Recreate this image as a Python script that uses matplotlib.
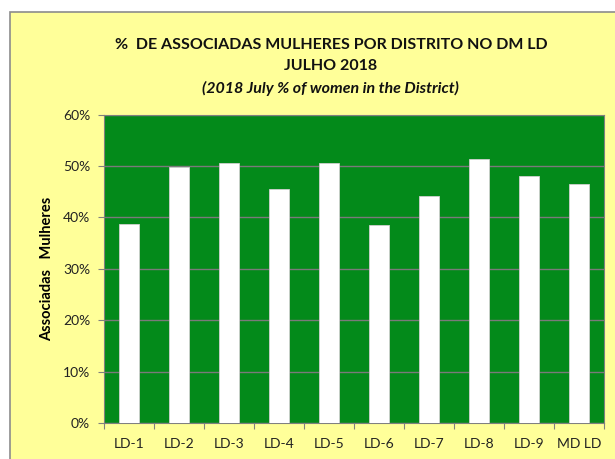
import matplotlib
matplotlib.use("Agg")
import matplotlib.pyplot as plt
from matplotlib.patches import Rectangle
from matplotlib.ticker import FuncFormatter

districts = ["LD-1", "LD-2", "LD-3", "LD-4", "LD-5", "LD-6", "LD-7", "LD-8", "LD-9", "MD LD"]
pct_women = [38.8, 49.8, 50.5, 45.5, 50.5, 38.5, 44.2, 51.3, 48.0, 46.5]
y_ticks = [0, 10, 20, 30, 40, 50, 60]

plt.rcParams["font.family"] = ["Lato", "DejaVu Sans"]

fig = plt.figure(figsize=(6.15, 4.59), dpi=100)
fig.patch.set_facecolor("white")
# yellow chart area with gray frame, offset from the top-left corner
fig.patches.append(Rectangle((10 / 615, -0.01), 1.0, 1 - 12 / 459 + 0.01,
                             transform=fig.transFigure, facecolor="#FFFF99",
                             edgecolor="#8c8c8c", lw=1.2, zorder=-10))

ax = fig.add_axes([104 / 615, 1 - 423 / 459, 500 / 615, (423 - 114.5) / 459])
ax.set_zorder(5)
ax.set_facecolor("#038A1A")
x = range(len(districts))
ax.bar(x, pct_women, width=0.4, color="white", edgecolor="#d0d0d0", lw=0.6, zorder=3)
ax.set_xlim(-0.5, len(districts) - 0.5)
ax.set_ylim(0, 60)
ax.set_yticks(y_ticks)
ax.yaxis.set_major_formatter(FuncFormatter(lambda v, p: f"{v:.0f}%"))
ax.set_xticks([i - 0.5 for i in range(len(districts) + 1)], minor=False)
ax.set_xticklabels([])
ax.set_xticks(list(x), minor=True)
ax.set_xticklabels(districts, minor=True)
ax.tick_params(axis="x", which="minor", length=0, pad=11, labelsize=10, colors="#222222")
ax.tick_params(axis="x", which="major", length=4, color="#808080")
ax.tick_params(axis="y", length=4, color="#808080", labelsize=10, labelcolor="#222222", pad=6)
ax.grid(axis="y", color="#7a7a7a", lw=1.0, zorder=1)
for s in ax.spines.values():
    s.set_color("#808080")
ax.set_ylabel("Associadas   Mulheres", fontsize=10.5, fontweight="bold", labelpad=6)

fig.text(0.538, 1 - 45 / 459, "%  DE ASSOCIADAS MULHERES POR DISTRITO NO DM LD",
         ha="center", va="center", fontsize=11.5, fontweight="bold", color="#111111")
fig.text(0.538, 1 - 66 / 459, "JULHO 2018",
         ha="center", va="center", fontsize=11.5, fontweight="bold", color="#111111")
fig.text(0.538, 1 - 88 / 459, "(2018 July % of women in the District)",
         ha="center", va="center", fontsize=11.5, fontweight="bold", style="italic", color="#111111")

fig.savefig("out.png", dpi=100, facecolor=fig.get_facecolor())
